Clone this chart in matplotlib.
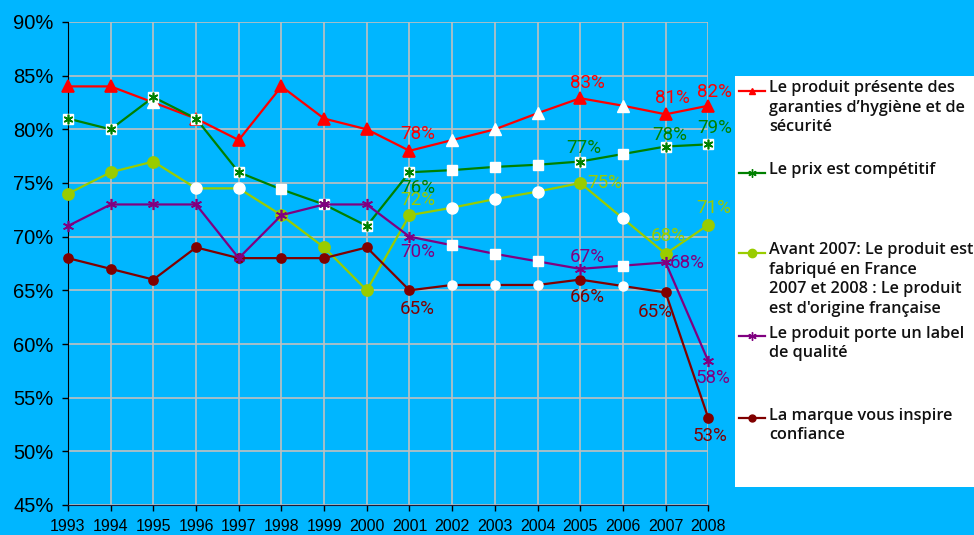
import matplotlib
matplotlib.use("Agg")
from matplotlib import pyplot as plt
from matplotlib.lines import Line2D
from matplotlib.patches import Rectangle
import numpy as np

years = list(range(1993, 2009))

# values per series (%), interpolated years drawn with white markers
hygiene = [84, 84, 82.5, 81, 79, 84, 81, 80, 78, 79, 80, 81.5, 82.9, 82.2, 81.4, 82.2]
prix = [81, 80, 83, 81, 76, 74.4, 73, 71, 76, 76.2, 76.5, 76.7, 77, 77.7, 78.4, 78.6]
france = [74, 76, 77, 74.5, 74.5, 72, 69, 65, 72, 72.7, 73.5, 74.2, 75, 71.7, 68.4, 71.1]
label_q = [71, 73, 73, 73, 68, 72, 73, 73, 70, 69.2, 68.4, 67.7, 67, 67.3, 67.6, 58.4]
marque = [68, 67, 66, 69, 68, 68, 68, 69, 65, 65.5, 65.5, 65.5, 66, 65.4, 64.8, 53.1]

hygiene_interp = [1995, 2002, 2003, 2004, 2006]
prix_interp = [1998, 2002, 2003, 2004, 2006]
france_interp = [1996, 1997, 2002, 2003, 2004, 2006]
label_q_interp = [2002, 2003, 2004, 2006]
marque_interp = [2002, 2003, 2004, 2006]

labelled_years = [2001, 2005, 2007, 2008]

legend_texts = [
    "Le produit présente des\ngaranties d’hygiène et de\nsécurité",
    "Le prix est compétitif",
    "Avant 2007: Le produit est\nfabriqué en France\n2007 et 2008 : Le produit\nest d'origine française",
    "Le produit porte un label\nde qualité",
    "La marque vous inspire\nconfiance",
]

BG = "#00B6FF"
ASTER = (6, 2, 0)
NARROW = ["Liberation Sans Narrow", "Roboto", "DejaVu Sans"]

# style: colour, marker, size, white-marker, label offsets (px) for labelled years, zorder
series = [
    (hygiene, hygiene_interp, "#FF0000", "^", 8, "^",
     [(8, -17), (7, -15), (7, -16), (6, -14)], 3),
    (prix, prix_interp, "#008000", ASTER, 7, "s",
     [(8, 16), (4, -14), (4, -12), (6, -16)], 4),
    (france, france_interp, "#99CC00", "o", 8, "o",
     [(8, -15), (25, 0), (3, -18), (5, -17)], 3),
    (label_q, label_q_interp, "#800080", ASTER, 8, "s",
     [(8, 15), (7, -12), (22, 1), (5, 17)], 5),
    (marque, marque_interp, "#800000", "o", 6.5, "o",
     [(8, 19), (7, 17), (-10, 20), (2, 18)], 3),
]

fig = plt.figure(figsize=(9.74, 5.35), dpi=100, facecolor=BG)
ax = fig.add_axes([68 / 974, 1 - 505 / 535, (708.3 - 68) / 974, (505 - 22) / 535])
ax.set_facecolor(BG)

x = np.array(years)
for vals, interp, col, mk, ms, wmk, offs, z in series:
    v = np.array(vals)
    ax.plot(x, v, color=col, lw=1.6, zorder=z, clip_on=False)
    real = np.array([yr not in interp for yr in years])
    if col == "#008000":
        ax.plot(x[real], v[real], ls="none", marker="s", ms=6.5, mfc="white",
                mec="white", zorder=z + 0.1, clip_on=False)
    ax.plot(x[real], v[real], ls="none", marker=mk, ms=ms, color=col,
            mec=col, mew=1.2, zorder=z + 0.2, clip_on=False)
    wms = 6.5 if wmk == "s" else ms
    ax.plot(x[~real], v[~real], ls="none", marker=wmk, ms=wms, color="white",
            mec="white", zorder=z + 0.2, clip_on=False)
    for yr, (dx, dy) in zip(labelled_years, offs):
        val = vals[years.index(yr)]
        ax.annotate(f"{round(val)}%", (yr, val), xytext=(dx * 0.72, -dy * 0.72),
                    textcoords="offset points", ha="center", va="center",
                    color=col, fontsize=13.5, family=NARROW,
                    zorder=10, annotation_clip=False)

ax.set_xlim(1993, 2008)
ax.set_ylim(45, 90)
ax.set_xticks(years)
ax.set_yticks(range(45, 91, 5))
ax.set_yticklabels([f"{t}%" for t in range(45, 91, 5)],
                   family=["Liberation Sans", "DejaVu Sans"], fontsize=14.5)
ax.set_xticklabels([str(y) for y in years],
                   family=["Liberation Sans", "DejaVu Sans"], fontsize=11.5)
ax.tick_params(axis="y", length=4.5, width=1, pad=6)
ax.tick_params(axis="x", length=4, width=1, pad=6)
ax.grid(True, color="#C0C0C0", lw=1.2, zorder=0)
ax.set_axisbelow(True)
for s in ["top", "right"]:
    ax.spines[s].set_visible(False)
ax.spines["left"].set_color("black")
ax.spines["bottom"].set_color("#1a1a3a")

# legend box
fig.add_artist(Rectangle((735 / 974, 1 - 487 / 535), 0.3, (487 - 76) / 535,
                         transform=fig.transFigure, facecolor="white",
                         edgecolor="none", zorder=1))
leg_marks = [("^", 5), (ASTER, 6), ("o", 6), (ASTER, 6), ("o", 5)]
leg_y = [90.7, 172.7, 252.7, 336, 418]
for (vals, interp, col, mk, ms, wmk, offs, z), (lm, lms), ly, txt in zip(
        series, leg_marks, leg_y, legend_texts):
    yf = 1 - ly / 535
    fig.add_artist(Line2D([739 / 974, 765 / 974], [yf, yf], color=col, lw=1.6,
                          transform=fig.transFigure, zorder=2))
    fig.add_artist(Line2D([752 / 974], [yf], marker=lm, ms=lms, color=col,
                          mec=col, transform=fig.transFigure, zorder=3))
    fig.text(769 / 974, yf + 10.5 / 535, txt, ha="left", va="top", fontsize=11.7,
             linespacing=1.3, color="#111111", zorder=4, weight="semibold",
             family=["Open Sans", "DejaVu Sans"])

fig.savefig("out.png", dpi=100, facecolor=BG)
